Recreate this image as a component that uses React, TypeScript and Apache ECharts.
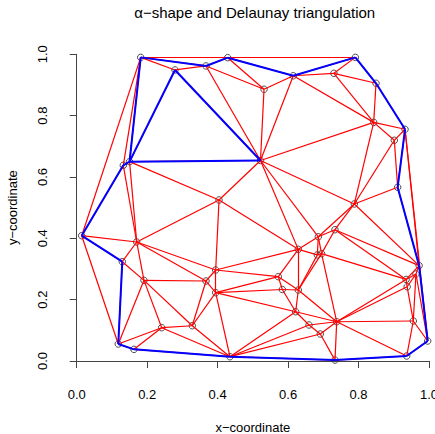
import React, { useEffect, useRef } from "react";
import * as echarts from "echarts";

// Point coordinates (data units)
const pointX = [
  0.1817, 0.279, 0.367, 0.4286, 0.5317, 0.6148, 0.73, 0.791, 0.8496, 0.843,
  0.932, 0.9015, 0.911, 0.788, 0.5217, 0.15, 0.1323, 0.0142, 0.1703, 0.1294,
  0.191, 0.404, 0.3945, 0.367, 0.3945, 0.2413, 0.328, 0.118, 0.1626, 0.435,
  0.629, 0.6858, 0.733, 0.683, 0.695, 0.5722, 0.5836, 0.629, 0.6216, 0.6594,
  0.6914, 0.738, 0.972, 0.935, 0.938, 0.9554, 0.9963, 0.9367, 0.7332, 0.963,
];
const pointY = [
  0.99, 0.949, 0.962, 0.989, 0.886, 0.93, 0.938, 0.99, 0.9055, 0.778,
  0.7555, 0.7196, 0.5664, 0.512, 0.6537, 0.65, 0.638, 0.4085, 0.388, 0.3238,
  0.263, 0.525, 0.2967, 0.2608, 0.2227, 0.1086, 0.115, 0.0554, 0.038, 0.014,
  0.364, 0.405, 0.428, 0.346, 0.35, 0.2749, 0.2331, 0.2315, 0.1607, 0.1174,
  0.088, 0.128, 0.311, 0.266, 0.242, 0.1304, 0.0652, 0.0163, 0.003, 0.2837,
];
// alpha-shape edges (1-based point numbers)
const alphaEdgesFrom = [16, 16, 2, 16, 1, 3, 4, 6, 8, 9, 11, 13, 43, 47, 48, 49, 30, 29, 28, 20, 18, 17];
const alphaEdgesTo = [1, 2, 15, 15, 3, 4, 6, 8, 9, 11, 13, 43, 47, 48, 49, 30, 29, 28, 20, 18, 17, 16];

const xTicks = [0, 0.2, 0.4, 0.6, 0.8, 1.0];
const yTicks = [0, 0.2, 0.4, 0.6, 0.8, 1.0];

const FONT = "Liberation Sans, Arial, sans-serif";

function delaunayEdges(xs: number[], ys: number[]): Array<[number, number]> {
  const n = xs.length;
  const px = xs.slice();
  const py = ys.slice();
  const M = 1e4;
  px.push(-M, M, 0.5);
  py.push(-M, -M, M);
  type T = { a: number; b: number; c: number; cx: number; cy: number; r2: number };
  const circ = (a: number, b: number, c: number): T => {
    const ax = px[a], ay = py[a], bx = px[b], by = py[b], qx = px[c], qy = py[c];
    const d = 2 * (ax * (by - qy) + bx * (qy - ay) + qx * (ay - by));
    const A = ax * ax + ay * ay, B = bx * bx + by * by, C = qx * qx + qy * qy;
    const ux = (A * (by - qy) + B * (qy - ay) + C * (ay - by)) / d;
    const uy = (A * (qx - bx) + B * (ax - qx) + C * (bx - ax)) / d;
    return { a, b, c, cx: ux, cy: uy, r2: (ax - ux) ** 2 + (ay - uy) ** 2 };
  };
  let tris: T[] = [circ(n, n + 1, n + 2)];
  for (let i = 0; i < n; i++) {
    const bad: T[] = [];
    const keep: T[] = [];
    for (const t of tris) {
      if ((px[i] - t.cx) ** 2 + (py[i] - t.cy) ** 2 < t.r2) bad.push(t);
      else keep.push(t);
    }
    const edges = new Map<string, [number, number] | null>();
    for (const t of bad) {
      const es: Array<[number, number]> = [[t.a, t.b], [t.b, t.c], [t.c, t.a]];
      for (const e of es) {
        const k = Math.min(e[0], e[1]) + "_" + Math.max(e[0], e[1]);
        if (edges.has(k)) edges.set(k, null);
        else edges.set(k, e);
      }
    }
    edges.forEach((e) => {
      if (e) keep.push(circ(e[0], e[1], i));
    });
    tris = keep;
  }
  const out = new Map<string, [number, number]>();
  for (const t of tris) {
    if (t.a >= n || t.b >= n || t.c >= n) continue;
    const es: Array<[number, number]> = [[t.a, t.b], [t.b, t.c], [t.c, t.a]];
    for (const e of es) {
      const k = Math.min(e[0], e[1]) + "_" + Math.max(e[0], e[1]);
      if (!out.has(k)) out.set(k, [Math.min(e[0], e[1]), Math.max(e[0], e[1])]);
    }
  }
  return Array.from(out.values());
}

export default function App() {
  const ref = useRef<HTMLDivElement>(null);
  useEffect(() => {
    if (!ref.current) return;
    const chart = echarts.init(ref.current, undefined, { renderer: "svg" });
    const del = delaunayEdges(pointX, pointY);
    const redData = del.map(([i, j]) => ({
      coords: [[pointX[i], pointY[i]], [pointX[j], pointY[j]]],
    }));
    const blueData = alphaEdgesFrom.map((f, k) => {
      const i = f - 1;
      const j = alphaEdgesTo[k] - 1;
      return { coords: [[pointX[i], pointY[i]], [pointX[j], pointY[j]]] };
    });
    const pts = pointX.map((x, i) => [x, pointY[i]]);
    const axisCommon = {
      type: "value" as const,
      min: xTicks[0],
      max: xTicks[xTicks.length - 1],
      interval: 0.2,
      splitLine: { show: false },
      axisLine: { show: true, lineStyle: { color: "#444", width: 1 } },
      axisTick: { show: true, length: 7, lineStyle: { color: "#444", width: 1 } },
      nameLocation: "middle" as const,
      nameTextStyle: { fontSize: 13, color: "#000", fontFamily: FONT },
    };
    chart.setOption({
      animation: false,
      grid: {
        left: 76.7,
        top: 54.3,
        width: 352.3,
        height: 306.7,
        containLabel: false,
        outerBoundsMode: "none",
      },
      graphic: [
        {
          type: "text",
          x: 254.7,
          y: 12,
          style: {
            text: "α−shape and Delaunay triangulation",
            fontSize: 15,
            fontFamily: FONT,
            fill: "#000",
            align: "center",
            verticalAlign: "middle",
            textAlign: "center",
            textVerticalAlign: "middle",
          },
        },
      ],
      xAxis: {
        ...axisCommon,
        offset: 11.7,
        name: "x−coordinate",
        nameGap: 48,
        axisLabel: {
          margin: 15,
          fontSize: 13,
          color: "#000",
          fontFamily: FONT,
          formatter: (v: number) => v.toFixed(1),
        },
      },
      yAxis: {
        ...axisCommon,
        min: yTicks[0],
        max: yTicks[yTicks.length - 1],
        offset: 8.4,
        name: "y−coordinate",
        nameGap: 49,
        axisLabel: {
          rotate: 90,
          margin: 19,
          fontSize: 13,
          color: "#000",
          fontFamily: FONT,
          formatter: (v: number) => v.toFixed(1),
        },
      },
      series: [
        {
          type: "scatter",
          data: pts,
          symbol: "circle",
          symbolSize: 6.5,
          itemStyle: { color: "rgba(0,0,0,0)", borderColor: "#222", borderWidth: 1 },
          z: 2,
          silent: true,
        },
        {
          type: "lines",
          coordinateSystem: "cartesian2d",
          data: redData,
          lineStyle: { color: "#ff0000", width: 1.2, opacity: 1 },
          z: 3,
          silent: true,
        },
        {
          type: "lines",
          coordinateSystem: "cartesian2d",
          data: blueData,
          lineStyle: { color: "#0000ff", width: 2, opacity: 1 },
          z: 4,
          silent: true,
        },
      ],
    });
    return () => chart.dispose();
  }, []);
  return (
    <div
      ref={ref}
      style={{ position: "absolute", left: 0, top: 0, width: 435, height: 434 }}
    />
  );
}
